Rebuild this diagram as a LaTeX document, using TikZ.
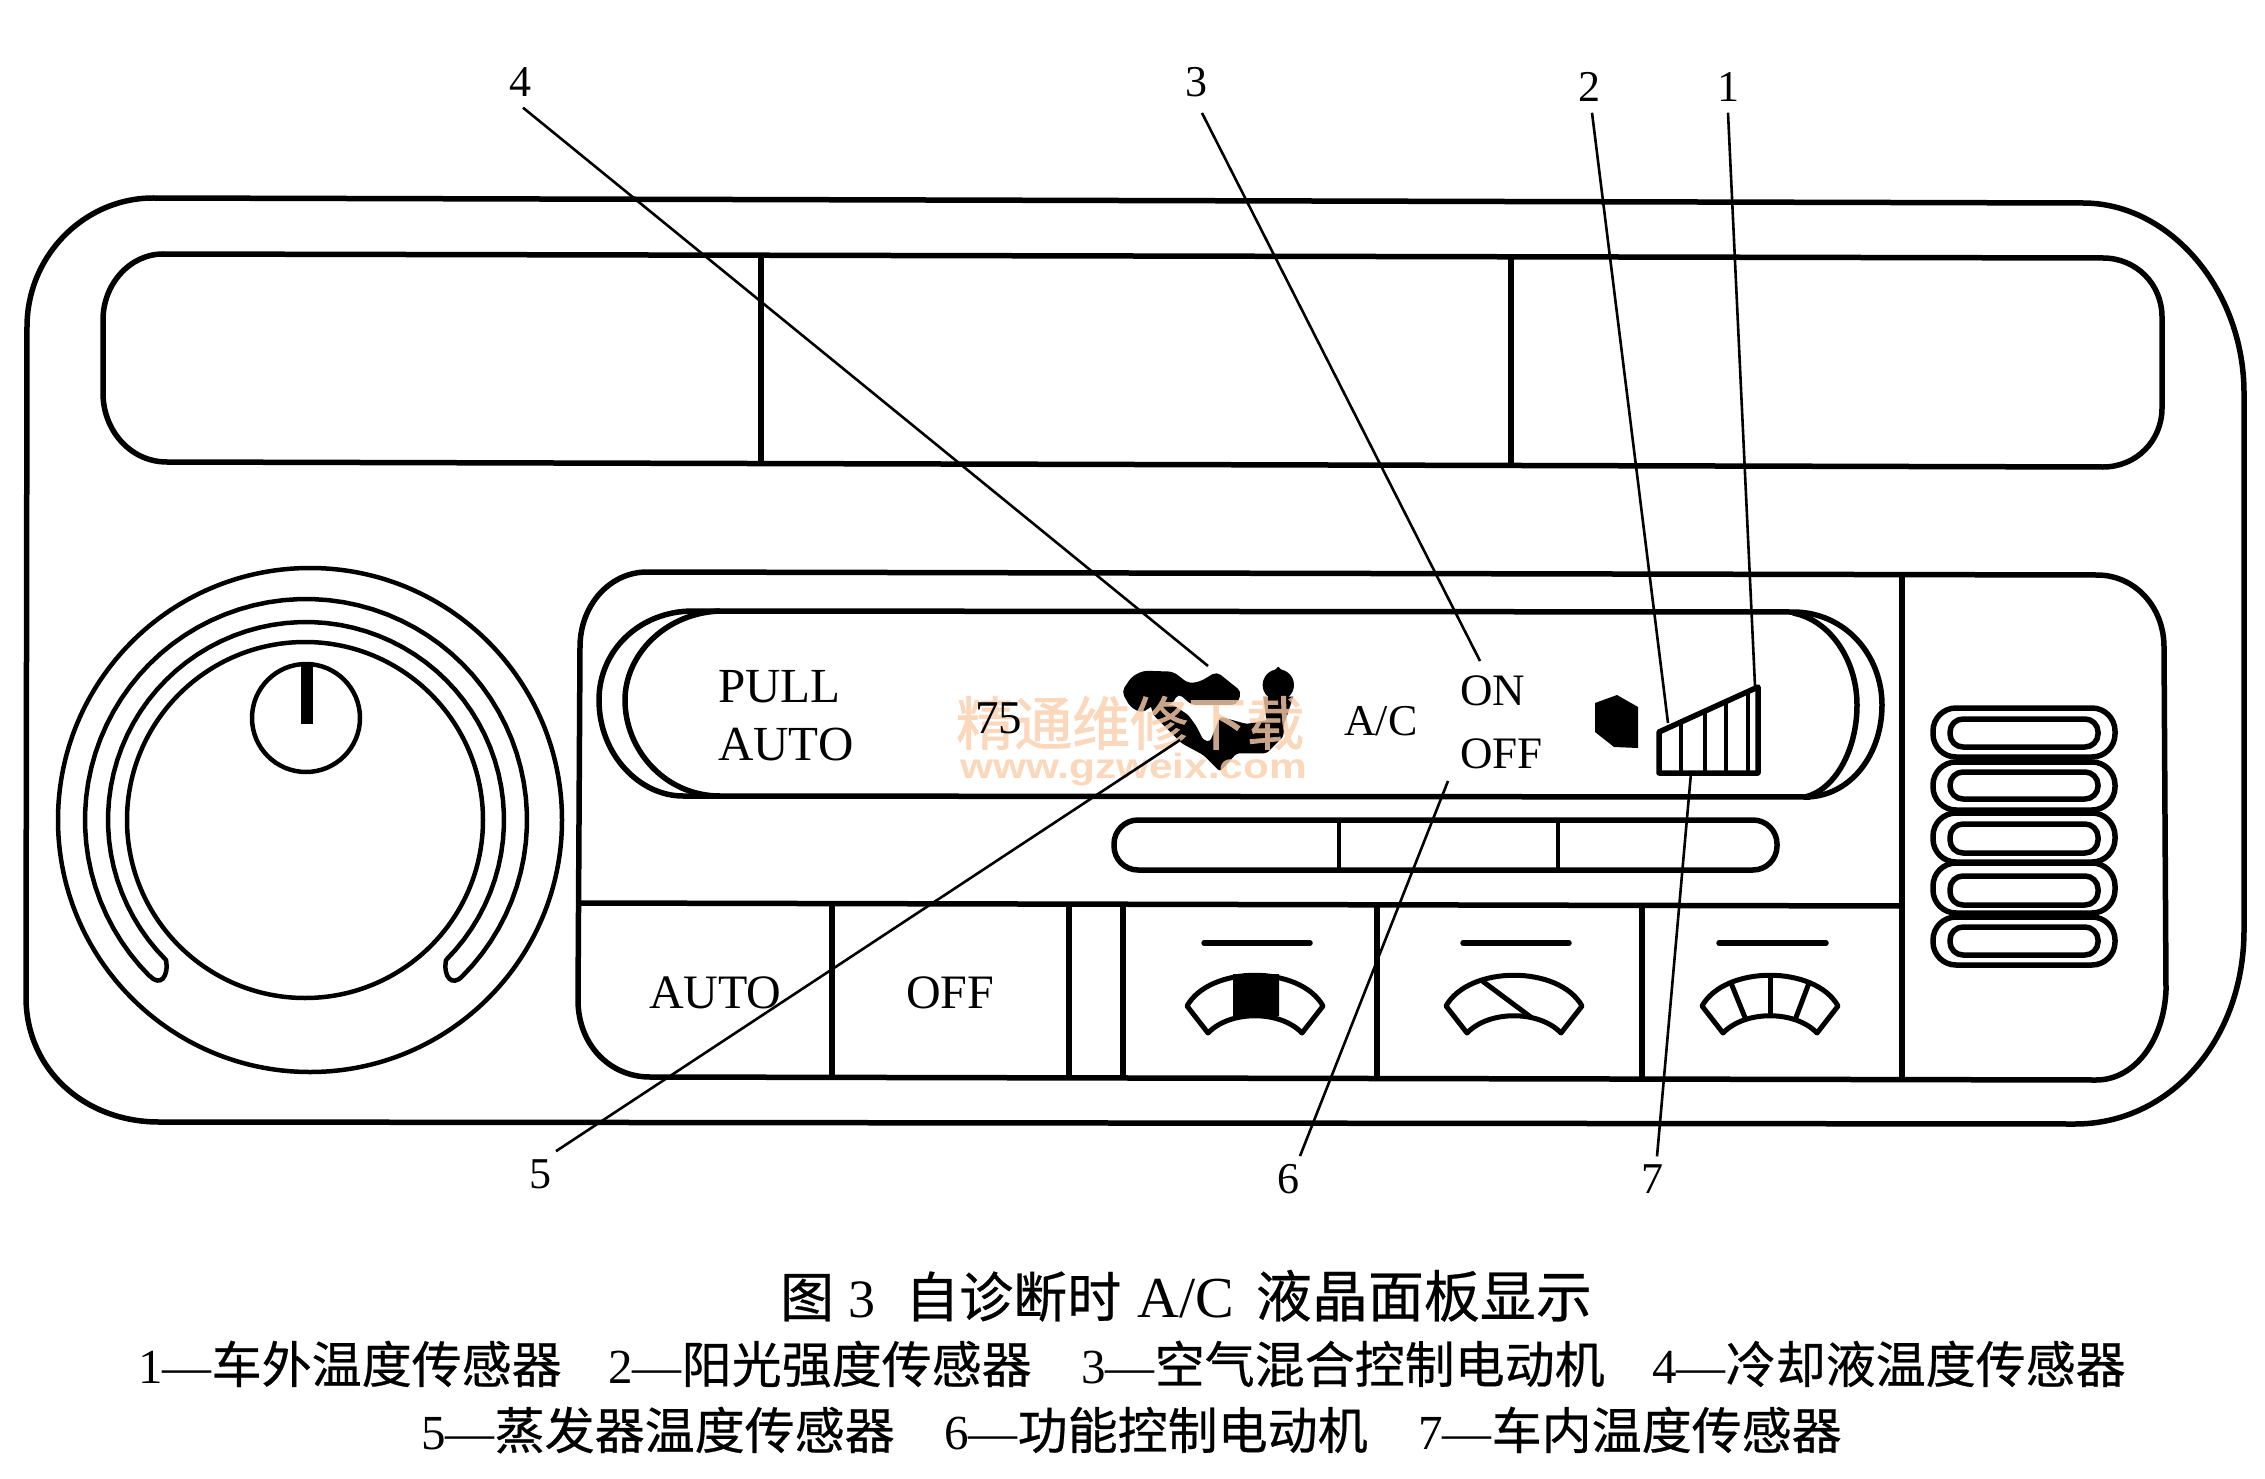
\documentclass[tikz,border=0pt]{standalone}
\usepackage{fontspec}
\setmainfont{Liberation Serif}
\newfontfamily\cjk[FakeBold=0.5]{Noto Sans CJK SC}
\newfontfamily\cjkheavy[FakeBold=1.4]{Noto Sans CJK SC}
\newfontfamily\wmsans{Liberation Sans}
\definecolor{wm}{RGB}{250,205,170}
\newcommand{\fsz}[1]{\fontsize{#1}{#1}\selectfont}
\newcommand{\fanicon}[1]{\draw[fanline,shift={(#1,0)}] (-68,1006) .. controls (-45,965) and (45,965) .. (68,1006) -- (47,1033) .. controls (25,1010) and (-25,1010) .. (-47,1033) -- cycle;}
\newcommand{\cn}[1]{{\fsz{50}\cjk #1}}
\tikzset{
  frameline/.style={draw=black,line width=5.5pt,line join=round},
  thinline/.style={draw=black,line width=4.5pt,line join=round},
  fanline/.style={draw=black,line width=5pt,line join=round},
  bartick/.style={draw=black,line width=5.5pt,line cap=round},
  leader/.style={draw=black,line width=2.6pt},
  lab/.style={font=\fsz{44},inner sep=0pt},
  paneltext/.style={font=\fsz{49},inner sep=0pt,anchor=base west},
  legendtext/.style={font=\fsz{49},inner sep=0pt,anchor=base west},
}
\begin{document}
\begin{tikzpicture}[x=1pt,y=-1pt]
\useasboundingbox (0,0) rectangle (2265,1479);
\fill[white] (0,0) rectangle (2265,1479);

% outer frame
\draw[frameline] (27,327) .. controls (27,255) and (85,198) .. (153,198) -- (2083,203)
  .. controls (2170,203) and (2244,290) .. (2244,393) -- (2244,930)
  .. controls (2244,1040) and (2170,1124) .. (2075,1124) -- (159,1122)
  .. controls (85,1122) and (26,1070) .. (26,997) -- cycle;
% top strip
\draw[frameline] (103,320) .. controls (103,284) and (130,254) .. (163,254) -- (2103,258)
  .. controls (2136,258) and (2162,284) .. (2162,317) -- (2162,408)
  .. controls (2162,441) and (2136,467) .. (2103,467) -- (167,462)
  .. controls (130,462) and (103,430) .. (103,393) -- cycle;
\draw[frameline] (761,255) -- (761,463);
\draw[frameline] (1511,256) -- (1511,465);

% knob
\draw[thinline] (310,820) circle[radius=252];
\draw[thinline] (305,820) circle[radius=178];
\draw[thinline] (306,718) circle[radius=54];
\fill[black] (300.5,663) rectangle (313,724);
\draw[thinline] plot[domain=135:405,samples=70] ({306+221*cos(\x)},{820+221*sin(\x)})
  .. controls (452,987) and (443,977) .. (446,960)
  -- plot[domain=405:135,samples=70] ({306+198*cos(\x)},{820+198*sin(\x)})
  .. controls (169,977) and (160,987) .. (150,976) -- cycle;

% lower panel
\draw[frameline] (580,647) .. controls (580,605) and (610,572) .. (647,572) -- (2097,575)
  .. controls (2135,575) and (2164,607) .. (2164,647) -- (2166,990)
  .. controls (2164,1040) and (2135,1080) .. (2096,1080) -- (650,1077)
  .. controls (610,1077) and (578,1045) .. (578,1000) -- cycle;
\draw[frameline] (1902,575) -- (1902,1079);
\draw[frameline] (580,903) -- (1902,906);
\foreach \bx in {832,1069,1123,1377,1642,1902} \draw[frameline] (\bx,905) -- (\bx,1079);

% display
\draw[frameline] (693,611) -- (1793,612);
\draw[frameline] (683,796) -- (1810,797);
\draw[frameline] (693,611) .. controls (640,611) and (599,650) .. (599,700) .. controls (599,755) and (640,796) .. (683,796);
\draw[frameline] (720,611) .. controls (665,613) and (625,655) .. (625,700) .. controls (625,750) and (665,796) .. (720,796);
\draw[frameline] (1793,612) .. controls (1845,612) and (1882,655) .. (1882,705) .. controls (1882,755) and (1850,797) .. (1805,797);
\draw[frameline] (1793,613) .. controls (1830,620) and (1857,660) .. (1857,705) .. controls (1857,750) and (1835,790) .. (1805,797);

% strip below the display
\draw[frameline,rounded corners=24pt] (1114,820) rectangle (1777,870);
\draw[thinline] (1339,820) -- (1339,870);
\draw[thinline] (1558,820) -- (1558,870);

% hexagon and wedge
\fill[black] (1595,703) -- (1617,695) -- (1638,707) -- (1638,748) -- (1614,747) -- (1595,732) -- cycle;
\draw[frameline] (1659,732) -- (1758,687) -- (1758,773) -- (1659,773) -- cycle;
\foreach \wx/\wy in {1681/722,1705/711,1726/701,1748/692} \draw[draw=black,line width=3.5pt] (\wx,\wy) -- (\wx,773);

% vents
\foreach \ya/\yb in {708/757,762/810,813/862,863/913,917/965}
  \draw[frameline,rounded corners=23pt] (1933,\ya) rectangle (2115,\yb);
\foreach \ya/\yb in {719/747,772/799,824/853,876/905,927/955}
  \draw[frameline,rounded corners=13pt] (1950,\ya) rectangle (2098,\yb);

% button icons
\foreach \bx/\by in {1204/1310,1463/1569,1719/1826} \draw[bartick] (\bx,943) -- (\by,943);
\fanicon{1255}
\fanicon{1514}
\fanicon{1770}
\fill[black] (1233,974) -- (1279,974) -- (1279,1016) -- (1233,1018) -- cycle;
\draw[fanline] (1481,980) -- (1532,1018);
\draw[fanline] (1731,983) -- (1746,1020);
\draw[fanline] (1770,975) -- (1770,1016);
\draw[fanline] (1809,983) -- (1795,1020);

% black figure symbol
\begin{scope}[shift={(1110,650)},x=0.3333pt,y=-0.3333pt]
\fill[black,rounded corners=5pt] (35,125) -- (65,80) -- (100,62) -- (190,65) -- (235,100) -- (270,95) -- (320,65) -- (395,125) -- (380,165) -- (245,165) -- (205,130) -- (185,165) -- (130,165) -- (95,190) -- (60,170) -- cycle;
\fill[black,rounded corners=3pt] (120,160) -- (190,165) -- (235,195) -- (260,230) -- (280,270) -- (300,275) -- (330,200) -- (410,222) -- (525,200) -- (520,260) -- (470,310) -- (380,310) -- (330,365) -- (280,315) -- (215,280) -- (130,195) -- cycle;
\fill[black] (505,105) circle[radius=47];
\fill[black] (505,50) -- (525,70) -- (485,70) -- cycle;
\fill[black] (460,140) -- (550,140) -- (525,215) -- (470,215) -- cycle;
\end{scope}

% panel texts
\node[paneltext] (tpull) at (718,702) {PULL};
\node[paneltext] (tauto) at (718,760) {AUTO};
\node[paneltext,font=\fsz{44}] (tac) at (1344,735) {A/C};
\node[paneltext,font=\fsz{45}] (ton) at (1460,705) {ON};
\node[paneltext,font=\fsz{45}] (toff) at (1460,768) {OFF};
\node[paneltext,font=\fsz{48}] (bauto) at (649,1008) {AUTO};
\node[paneltext,font=\fsz{48}] (boff) at (906,1008) {OFF};

% watermark
\begin{scope}[transparency group,opacity=.8]
\node[inner sep=0pt,anchor=base west,text=wm,font=\cjkheavy\fsz{58}] (wmcn) at (956,745) {精通维修下载};
\node[inner sep=0pt,anchor=base west,text=wm,font=\wmsans\bfseries\fsz{35},xscale=1.21,transform shape] (wmen) at (960,778) {www.gzweix.com};
\end{scope}
\node[paneltext,font=\fsz{47}] (t75) at (975,733) {75};

% leaders
\node[lab] (n1) at (1728,87) {1};
\node[lab] (n2) at (1589,87) {2};
\node[lab] (n3) at (1196,82) {3};
\node[lab] (n4) at (520,82) {4};
\node[lab] (n5) at (540,1174) {5};
\node[lab] (n6) at (1288,1179) {6};
\node[lab] (n7) at (1652,1179) {7};
\coordinate (e1) at (1755,686);
\coordinate (e2) at (1668,723);
\coordinate (e3) at (1480,661);
\coordinate (e4) at (1208,666);
\coordinate (e5) at (1180,740);
\coordinate (e6) at (1448,781);
\coordinate (e7) at (1691,773);
\draw[leader] ([yshift=-11pt]n1.south) -- (e1);
\draw[leader] ([xshift=3pt,yshift=-11pt]n2.south) -- (e2);
\draw[leader] ([xshift=6pt,yshift=-16pt]n3.south) -- (e3);
\draw[leader] ([xshift=3pt,yshift=-11pt]n4.south) -- (e4);
\draw[leader] ([xshift=16pt,yshift=8pt]n5.north) -- (e5);
\draw[leader] ([xshift=12pt,yshift=8pt]n6.north) -- (e6);
\draw[leader] ([xshift=5pt,yshift=8pt]n7.north) -- (e7);

% caption
\node[inner sep=0pt,anchor=base west,font=\fsz{54}] (cap) at (780,1317) {{\cjk 图}\hspace{14pt}3\hspace{30pt}{\cjk 自诊断时}\hspace{16pt}{\fsz{58}A/C}\hspace{22pt}{\fsz{56}\cjk 液晶面板显示}};
\node[legendtext] (l1) at (138,1383) {1—\cn{车外温度传感器}};
\node[legendtext] (l2) at (608,1383) {2—\cn{阳光强度传感器}};
\node[legendtext] (l3) at (1081,1383) {3—\cn{空气混合控制电动机}};
\node[legendtext] (l4) at (1652,1383) {4—\cn{冷却液温度传感器}};
\node[legendtext] (l5) at (421,1449) {5—\cn{蒸发器温度传感器}};
\node[legendtext] (l6) at (944,1449) {6—\cn{功能控制电动机}};
\node[legendtext] (l7) at (1418,1449) {7—\cn{车内温度传感器}};
\end{tikzpicture}
\end{document}
